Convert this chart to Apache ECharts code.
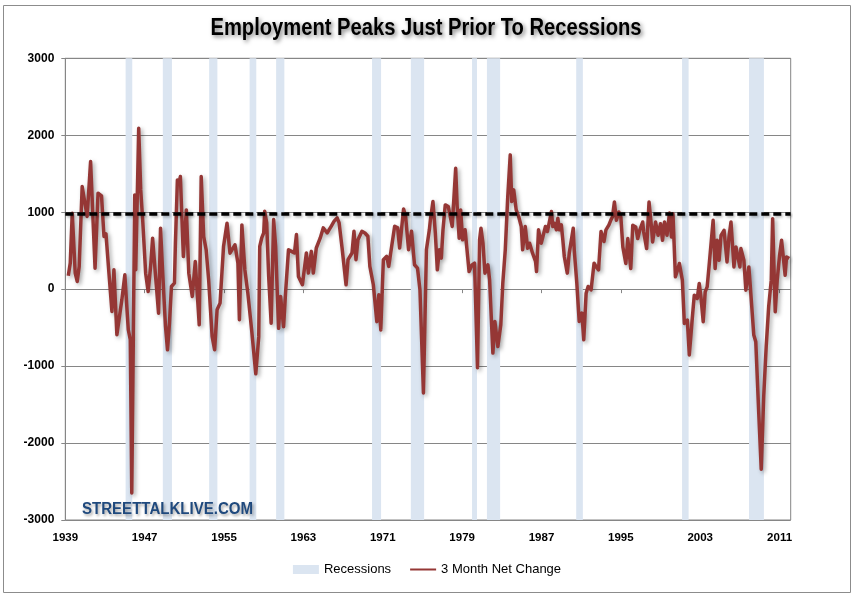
<!DOCTYPE html>
<html><head><meta charset="utf-8">
<script src="https://cdn.jsdelivr.net/npm/echarts@6/dist/echarts.min.js"></script>
<style>html,body{margin:0;padding:0;background:#fff}#c{width:854px;height:594px}</style>
</head><body><div id="c"></div>
<script>
const tickYears = [1939, 1947, 1955, 1963, 1971, 1979, 1987, 1995, 2003, 2011];
const recessionStart = [1945.08, 1948.83, 1953.50, 1957.58, 1960.25, 1969.92, 1973.83, 1980.00, 1981.50, 1990.50, 2001.17, 2007.92];
const recessionEnd   = [1945.75, 1949.75, 1954.33, 1958.25, 1961.08, 1970.83, 1975.17, 1980.50, 1982.83, 1991.17, 2001.83, 2009.42];
const threshold = 975;
const obsYears = [
 1939.3,1939.5,1939.7,1940.0,1940.2,1940.4,1940.7,1940.9,1941.2,1941.55,1942.0,1942.3,1942.65,1942.9,1943.1,1943.4,1943.7,1943.9,1944.2,1944.7,
 1945.0,1945.35,1945.55,1945.7,1946.0,1946.1,1946.4,1946.6,1946.8,1947.1,1947.35,1947.6,1947.8,1948.1,1948.4,1948.6,1948.8,1949.1,1949.3,1949.5,
 1949.7,1950.0,1950.1,1950.3,1950.45,1950.6,1950.9,1951.2,1951.45,1951.8,1952.1,1952.5,1952.7,1952.95,1953.2,1953.45,1953.8,1954.05,1954.3,1954.6,
 1954.95,1955.3,1955.6,1956.1,1956.4,1956.55,1956.8,1957.1,1957.4,1957.8,1958.2,1958.5,1958.6,1958.8,1959.0,1959.1,1959.3,1959.5,1959.75,1960.0,
 1960.2,1960.5,1960.7,1961.0,1961.2,1961.5,1961.8,1962.1,1962.3,1962.5,1962.9,1963.3,1963.5,1963.8,1964.0,1964.3,1964.7,1965.0,1965.4,1965.8,
 1966.1,1966.4,1966.6,1966.9,1967.1,1967.3,1967.5,1967.9,1968.1,1968.3,1968.5,1968.9,1969.2,1969.5,1969.7,1970.05,1970.4,1970.6,1970.8,1971.06,
 1971.4,1971.6,1971.9,1972.2,1972.5,1972.7,1973.1,1973.3,1973.6,1973.9,1974.2,1974.5,1974.75,1975.1,1975.4,1975.7,1975.8,1976.06,1976.3,1976.5,
 1976.7,1976.9,1977.07,1977.3,1977.6,1977.8,1978.0,1978.1,1978.35,1978.5,1978.7,1978.85,1979.05,1979.3,1979.5,1979.7,1980.0,1980.25,1980.55,1980.76,
 1980.9,1981.1,1981.3,1981.4,1981.6,1981.77,1982.1,1982.3,1982.6,1982.9,1983.1,1983.35,1983.6,1983.85,1984.0,1984.2,1984.45,1984.7,1984.96,1985.1,
 1985.36,1985.6,1985.8,1986.1,1986.4,1986.5,1986.7,1986.97,1987.1,1987.4,1987.6,1987.8,1988.0,1988.14,1988.3,1988.5,1988.65,1988.8,1989.0,1989.15,
 1989.3,1989.6,1989.8,1990.2,1990.3,1990.56,1990.8,1991.07,1991.26,1991.5,1991.7,1992.0,1992.3,1992.5,1992.75,1993.0,1993.3,1993.5,1993.8,1994.0,
 1994.15,1994.35,1994.55,1994.8,1995.0,1995.2,1995.5,1995.7,1996.0,1996.2,1996.5,1996.7,1996.9,1997.2,1997.3,1997.6,1997.84,1998.1,1998.2,1998.5,
 1998.75,1999.0,1999.2,1999.4,1999.65,1999.9,2000.1,2000.25,2000.5,2000.76,2000.9,2001.2,2001.4,2001.7,2001.9,2002.2,2002.4,2002.7,2002.9,2003.07,
 2003.3,2003.5,2003.7,2003.9,2004.1,2004.3,2004.5,2004.7,2004.9,2005.1,2005.4,2005.6,2005.7,2005.9,2006.1,2006.4,2006.6,2006.8,2007.0,2007.1,
 2007.4,2007.6,2007.9,2008.1,2008.4,2008.6,2008.9,2009.15,2009.4,2009.65,2009.9,2010.16,2010.3,2010.56,2010.76,2011.0,2011.2,2011.56,2011.7,2011.97
];
const netChange = [
 173,338,987,208,100,294,1333,1355,944,1658,273,1247,1212,684,719,208,-290,251,-593,-139,
 186,-528,-658,-2650,1225,251,2090,1290,900,208,-30,294,662,165,-312,792,251,-485,-788,-442,
 35,78,597,1420,1377,1463,424,1030,208,-95,359,-463,1463,684,511,121,-615,-788,-268,-182,
 554,857,468,576,338,-398,835,250,-52,-552,-1100,-617,557,665,730,1013,861,165,-443,904,
 557,-509,-96,-487,-52,513,491,470,709,165,57,470,209,491,209,535,665,796,730,817,
 883,926,861,535,513,57,383,470,752,383,643,752,730,687,296,57,-422,-74,-530,383,
 426,296,557,817,796,535,1043,948,513,752,317,274,-9,-1350,513,774,900,1138,727,251,
 511,403,771,1095,1074,1095,814,792,1571,1074,662,1030,641,771,792,229,316,338,-1020,641,
 792,597,208,186,316,121,-831,-420,-745,-463,78,511,1203,1745,1138,1290,1030,944,814,511,
 814,532,597,468,359,229,771,597,662,814,749,727,1009,814,857,771,922,771,835,641,
 424,208,468,792,511,78,-420,-312,-658,-52,35,-9,338,294,251,749,619,771,835,900,
 937,1132,894,1002,937,549,333,657,268,829,808,657,765,873,743,527,1132,786,613,873,
 700,851,635,873,700,989,678,981,160,268,333,117,-445,-402,-855,-380,-78,-121,73,-99,
 -423,-35,30,311,333,894,268,635,376,700,765,786,354,678,873,289,549,570,289,527,
 376,-13,289,-56,-596,-683,-1611,-2340,-1395,-747,-229,117,916,-294,117,441,635,181,419,397
];
const titleText = 'Employment Peaks Just Prior To Recessions';
const watermarkText = 'STREETTALKLIVE.COM';

const xMin = 1939, xMax = 2012.12;
const lineData = obsYears.map((y, i) => [y, netChange[i]]);
const recData = recessionStart.map((s, i) => [s, recessionEnd[i]]);
const font = "'Liberation Sans', Arial, sans-serif";

// fit title / watermark widths to reference (condensed look)
const mctx = document.createElement('canvas').getContext('2d');
function fitScale(text, cssFont, targetW) {
  mctx.font = cssFont;
  const w = mctx.measureText(text).width;
  return Math.min(1, targetW / w);
}
const titleFont = "bold 23px 'Liberation Sans', Arial, sans-serif";
const titleScale = fitScale(titleText, titleFont, 431);
const wmFont = "bold 16px 'Liberation Sans', Arial, sans-serif";
const wmScale = fitScale(watermarkText, wmFont, 171);

const chart = echarts.init(document.getElementById('c'), null, {renderer: 'canvas'});
chart.setOption({
  backgroundColor: '#ffffff',
  animation: false,
  legend: {
    data: [{name: 'Recessions', icon: 'rect'}, {name: '3 Month Net Change', itemStyle: {opacity: 0}}],
    left: 'center', top: 558,
    itemWidth: 26, itemHeight: 9, itemGap: 18,
    textStyle: {fontFamily: font, fontSize: 13, color: '#000'}
  },
  graphic: [
    {type: 'rect', left: 1, top: 3, shape: {width: 847, height: 587}, style: {fill: 'none', stroke: '#8c8c8c', lineWidth: 1}, z: 100},
    {type: 'text', x: 426, y: 28.5, scaleX: titleScale, z: 100,
     style: {text: titleText, x: 0, y: 0, align: 'center', verticalAlign: 'middle', fill: '#000', font: titleFont,
       textShadowColor: 'rgba(0,0,0,0.5)', textShadowBlur: 4, textShadowOffsetX: 2, textShadowOffsetY: 2}},
    {type: 'text', x: 82, y: 510, scaleX: wmScale, z: 100,
     style: {text: watermarkText, x: 0, y: 0, align: 'left', verticalAlign: 'middle', fill: '#1f497d', font: wmFont,
       textShadowColor: 'rgba(0,0,0,0.35)', textShadowBlur: 3, textShadowOffsetX: 1.5, textShadowOffsetY: 1.5}}
  ],
  grid: {left: 65.3, right: 63.3, top: 58.3, bottom: 74, show: true, borderColor: '#868686', borderWidth: 1, backgroundColor: 'transparent'},
  xAxis: [
    {type: 'value', min: xMin, max: xMax, position: 'bottom',
     axisLine: {show: false, onZero: false}, axisTick: {show: false}, splitLine: {show: false},
     axisLabel: {customValues: tickYears, margin: 12, color: '#000', fontWeight: 'bold', fontSize: 11.5, fontFamily: font, formatter: v => String(Math.round(v))}},
    {type: 'value', min: xMin, max: xMax, position: 'bottom',
     axisLine: {show: true, onZero: true, lineStyle: {color: '#868686', width: 1}},
     axisTick: {show: true, customValues: tickYears, length: 4, lineStyle: {color: '#868686'}},
     axisLabel: {show: false}, splitLine: {show: false}}
  ],
  yAxis: {
    type: 'value', min: -3000, max: 3000, interval: 1000,
    axisLine: {show: true, lineStyle: {color: '#868686'}},
    axisTick: {show: true, length: 4, lineStyle: {color: '#868686'}},
    splitLine: {show: true, lineStyle: {color: '#868686', width: 1}},
    axisLabel: {margin: 11, color: '#000', fontWeight: 'bold', fontSize: 12, fontFamily: font, formatter: v => String(v)}
  },
  series: [
    {
      name: 'Recessions', type: 'custom', xAxisIndex: 0, z: 2,
      itemStyle: {color: '#dbe5f1'},
      data: recData,
      renderItem: (params, api) => {
        const p0 = api.coord([api.value(0), 3000]);
        const p1 = api.coord([api.value(1), -3000]);
        return {type: 'rect', shape: {x: p0[0], y: p0[1], width: p1[0] - p0[0], height: p1[1] - p0[1]},
                style: {fill: '#dbe5f1'}};
      }
    },
    {
      name: '3 Month Net Change', type: 'line', xAxisIndex: 0, z: 4,
      data: lineData, symbol: 'none', showSymbol: false,
      itemStyle: {color: '#953735'},
      lineStyle: {color: '#953735', width: 3.5, join: 'round',
        shadowColor: 'rgba(0,0,0,0.35)', shadowBlur: 4, shadowOffsetX: 2, shadowOffsetY: 2}
    },
    {
      name: 'Threshold', type: 'line', xAxisIndex: 0, z: 5,
      data: [[xMin, threshold], [xMax, threshold]], symbol: 'none',
      lineStyle: {color: '#000', width: 3.5, type: [8, 4],
        shadowColor: 'rgba(0,0,0,0.3)', shadowBlur: 3, shadowOffsetX: 1.5, shadowOffsetY: 1.5}
    }
  ]
});
</script>
</body></html>
